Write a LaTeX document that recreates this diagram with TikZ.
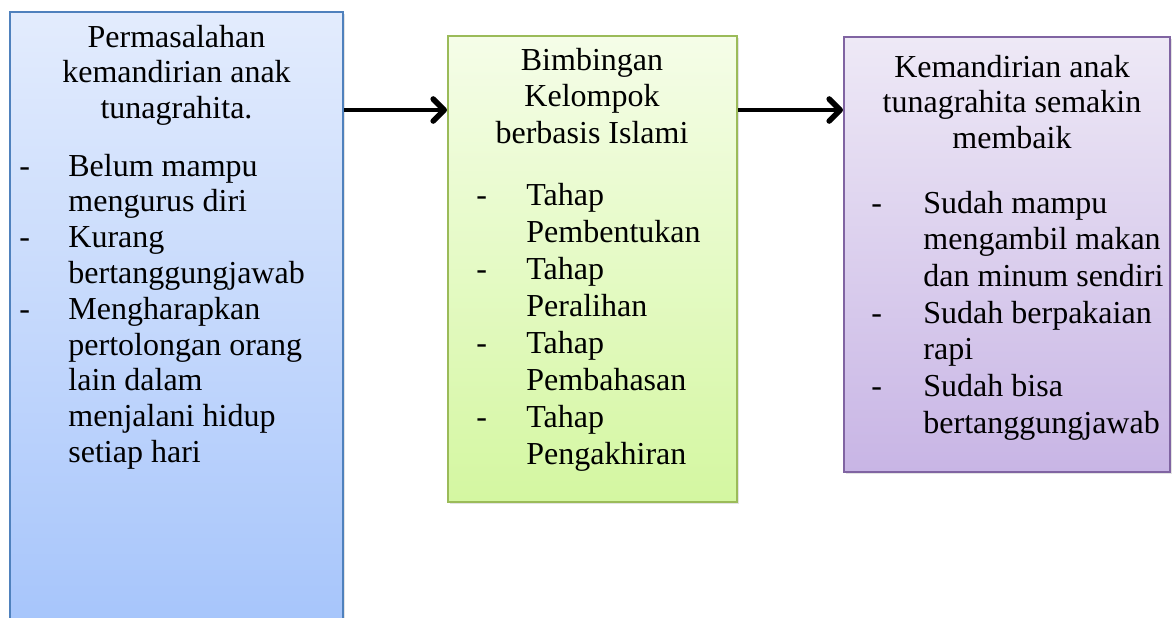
\documentclass[tikz,border=0pt]{standalone}
\usepackage{fontspec}
\setmainfont{Liberation Serif}
\usetikzlibrary{positioning, arrows.meta, fit, shadows}
\definecolor{lineBlue}{HTML}{4F81BD}
\definecolor{topBlue}{HTML}{E3ECFD}
\definecolor{botBlue}{HTML}{A5C4FB}
\definecolor{lineGreen}{HTML}{9BBB59}
\definecolor{topGreen}{HTML}{F5FDE8}
\definecolor{botGreen}{HTML}{D4F7A1}
\definecolor{linePurple}{HTML}{8064A2}
\definecolor{topPurple}{HTML}{EEE9F6}
\definecolor{botPurple}{HTML}{C8B5E5}

\begin{document}
\begin{tikzpicture}[
  x=0.5pt, y=-0.5pt,
  box/.style={rectangle, line width=1pt, inner sep=0pt,
    drop shadow={shadow xshift=1.2pt, shadow yshift=-1.2pt, opacity=0.22}},
  hdr/.style={anchor=base, inner sep=0pt, font=\fontsize{16}{18}\selectfont},
  item/.style={anchor=base west, inner sep=0pt, font=\fontsize{16}{18}\selectfont},
  flow/.style={line width=2.2pt,
    -{Straight Barb[length=5.5pt, width=11pt, line width=2.8pt, round]}},
]
  %% --- kanvas (unit: px gambar, y ke bawah) ---
  \useasboundingbox (0,0) rectangle (1173,617);
  \clip (0,0) rectangle (1173,617);

  %% --- tiga kotak ---
  \node[box, draw=lineBlue, top color=topBlue, bottom color=botBlue,
        fit={(10,12) (343,640)}] (prob) {};
  \node[box, draw=lineGreen, top color=topGreen, bottom color=botGreen,
        fit={(448,36) (737,502)}] (bimb) {};
  \node[box, draw=linePurple, top color=topPurple, bottom color=botPurple,
        fit={(844,37) (1170,472)}] (hasil) {};

  %% --- panah antar kotak ---
  \coordinate (lvl) at (0,110);
  \draw[flow] (prob.east |- lvl) -- (bimb.west |- lvl);
  \draw[flow] (bimb.east |- lvl) -- (hasil.west |- lvl);

  %% --- kotak 1: permasalahan ---
  \foreach \t [count=\i from 0] in {Permasalahan, kemandirian anak, tunagrahita.}
    \node[hdr] (prob-t\i) at (176.5,{47+35.5*\i}) {\t};
  \foreach \t [count=\i from 0] in {Belum mampu, mengurus diri, Kurang,
      bertanggungjawab, Mengharapkan, pertolongan orang, lain dalam,
      menjalani hidup, setiap hari}
    \node[item] (prob-l\i) at (68,{176+35.8*\i}) {\t};
  \foreach \i in {0,2,4}
    \node[item] (prob-d\i) at (19,{176+35.8*\i}) {-};

  %% --- kotak 2: bimbingan ---
  \foreach \t [count=\i from 0] in {Bimbingan, Kelompok, berbasis Islami}
    \node[hdr] (bimb-t\i) at (592,{70+36.5*\i}) {\t};
  \foreach \t [count=\i from 0] in {Tahap, Pembentukan, Tahap, Peralihan,
      Tahap, Pembahasan, Tahap, Pengakhiran}
    \node[item] (bimb-l\i) at (526,{205+37.1*\i}) {\t};
  \foreach \i in {0,2,4,6}
    \node[item] (bimb-d\i) at (476,{205+37.1*\i}) {-};

  %% --- kotak 3: hasil ---
  \foreach \t [count=\i from 0] in {Kemandirian anak, tunagrahita semakin, membaik}
    \node[hdr] (hasil-t\i) at (1012,{77+35.5*\i}) {\t};
  \foreach \t [count=\i from 0] in {Sudah mampu, mengambil makan,
      dan minum sendiri, Sudah berpakaian, rapi, Sudah bisa, bertanggungjawab}
    \node[item] (hasil-l\i) at (923,{213+36.7*\i}) {\t};
  \foreach \i in {0,3,5}
    \node[item] (hasil-d\i) at (871,{213+36.7*\i}) {-};
\end{tikzpicture}
\end{document}
